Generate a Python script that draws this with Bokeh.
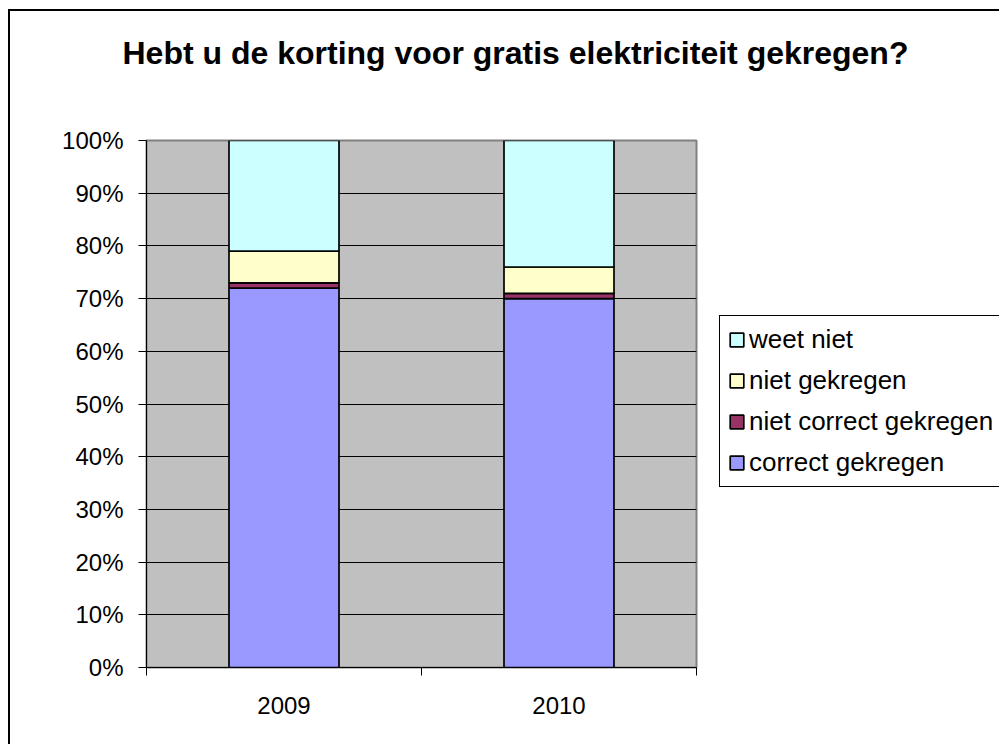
from bokeh.plotting import figure
from bokeh.models import (ColumnDataSource, FixedTicker, Legend, LegendItem,
                          PrintfTickFormatter, Range1d, Title)
from bokeh.embed import file_html
from bokeh.resources import INLINE

# ---- data ----
years = ["2009", "2010"]
correct_gekregen = [72, 70]
niet_correct_gekregen = [1, 1]
niet_gekregen = [6, 5]
weet_niet = [21, 24]
series_keys = ["correct", "niet_correct", "niet_gekr", "weet_niet"]
series_names = ["correct gekregen", "niet correct gekregen", "niet gekregen", "weet niet"]
series_colors = ["#9999FF", "#993366", "#FFFFCC", "#CCFFFF"]
y_ticks = list(range(0, 101, 10))
title_text = "Hebt u de korting voor gratis elektriciteit gekregen?"

x_pos = [i + 0.5 for i in range(len(years))]
source = ColumnDataSource(dict(
    x=x_pos,
    correct=correct_gekregen,
    niet_correct=niet_correct_gekregen,
    niet_gekr=niet_gekregen,
    weet_niet=weet_niet,
))

FONT = "Liberation Sans"

p = figure(frame_width=550, frame_height=527,
           x_range=Range1d(0, len(years)), y_range=Range1d(0, 100),
           output_backend="svg", toolbar_location=None,
           min_border_left=136, min_border_right=303,
           min_border_top=129, min_border_bottom=77)
p.styles = {"margin-left": "10px", "margin-top": "11px",
            "outline": "2px solid black"}
p.background_fill_color = "#C0C0C0"
p.border_fill_color = "white"
p.outline_line_color = "#808080"
p.outline_line_width = 2

renderers = p.vbar_stack(series_keys, x="x", width=0.4, source=source,
                         fill_color=series_colors, line_color="black",
                         line_width=1.7)

# spacer between title and frame
p.add_layout(Title(text=" ", text_font_size="10px", standoff=52), "above")

# title
p.title.text = title_text
p.title.text_font = FONT
p.title.text_font_size = "32px"
p.title.text_font_style = "bold"
p.title.text_color = "black"
p.title.align = "left"
p.title.offset = -24
p.title.standoff = 10

# x axis
p.xaxis.ticker = FixedTicker(ticks=x_pos, minor_ticks=list(range(len(years) + 1)))
p.xaxis.major_label_overrides = {x: y for x, y in zip(x_pos, years)}
p.xaxis.major_tick_line_color = None
p.xaxis.major_tick_out = 8
p.xaxis.major_tick_in = 0
p.xaxis.minor_tick_out = 8
p.xaxis.minor_tick_in = 0
p.xaxis.minor_tick_line_color = "black"
p.xaxis.major_label_standoff = 21

# y axis
p.yaxis.ticker = FixedTicker(ticks=y_ticks, minor_ticks=[])
p.yaxis.formatter = PrintfTickFormatter(format="%d%%")
p.yaxis.major_tick_out = 8
p.yaxis.major_tick_in = 0
p.yaxis.major_label_standoff = 15

for ax in (p.xaxis, p.yaxis):
    ax.axis_line_color = "black"
    ax.major_label_text_font = FONT
    ax.major_label_text_font_size = "24px"
    ax.major_label_text_color = "black"

p.xgrid.visible = False
p.ygrid.grid_line_color = "black"
p.ygrid.grid_line_width = 1

# legend (right panel, offset from the frame)
items = [LegendItem(label=n, renderers=[r]) for n, r in zip(series_names, renderers)]
legend = Legend(items=list(reversed(items)), location=(23, 180),
                margin=0, padding=8, spacing=10,
                glyph_width=17, glyph_height=17, label_height=29,
                label_width=262, label_standoff=4,
                label_text_font=FONT, label_text_font_size="26px",
                label_text_color="black",
                border_line_color="black", border_line_width=1,
                border_line_alpha=1,
                background_fill_color="white", background_fill_alpha=1)
p.add_layout(legend, "right")

open("out.html", "w").write(file_html(p, INLINE))
